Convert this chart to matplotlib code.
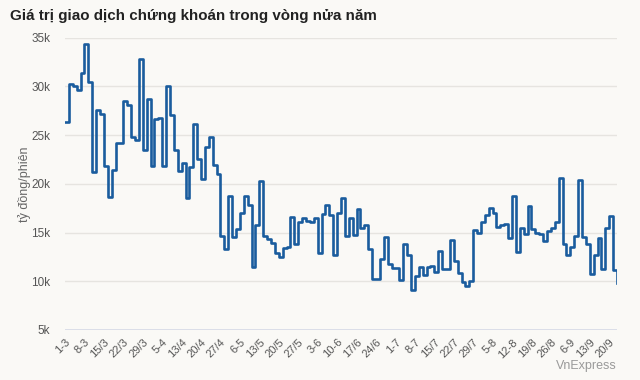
import matplotlib
matplotlib.use("Agg")
import matplotlib.pyplot as plt
from matplotlib.ticker import FuncFormatter

# gia tri giao dich moi phien (ty dong), 1/3 -> 22/9
values = [26300, 30200, 30000, 29600, 31400, 34400, 30500, 21200, 27600, 27200,
          21800, 18700, 21400, 24200, 24200, 28500, 28100, 24800, 24500, 32800,
          23500, 28700, 21800, 26700, 26800, 21800, 30000, 27100, 23500, 21300,
          22100, 18500, 21700, 26100, 22600, 20500, 23800, 24800, 21900, 21000,
          14600, 13300, 18800, 14500, 15400, 17000, 18800, 17800, 11500, 15800,
          20300, 14600, 14300, 13900, 12900, 12500, 13400, 13500, 16600, 13800,
          16100, 16500, 16200, 16100, 16500, 12900, 16900, 17800, 16800, 12700,
          17000, 18500, 14600, 16500, 14700, 17400, 15500, 15800, 13300, 10200,
          10200, 12300, 14500, 11800, 11400, 11400, 10100, 13800, 12700, 9100,
          10500, 11500, 10600, 11500, 11600, 11000, 13100, 11300, 11300, 14200,
          12100, 10900, 9900, 9500, 10000, 15300, 15000, 16100, 16800, 17500,
          17000, 15600, 15800, 15900, 14400, 18800, 13000, 15500, 14900, 17700,
          15400, 15000, 14900, 14100, 15200, 15500, 16100, 20600, 13800, 12700,
          13500, 14600, 20400, 14500, 13800, 10700, 12700, 14400, 11300, 15500,
          16700, 11200, 9800]

# nhan ngay, moi 5 phien
tick_labels = ["1-3", "8-3", "15/3", "22/3", "29/3", "5-4", "13/4", "20/4", "27/4",
               "6-5", "13/5", "20/5", "27/5", "3-6", "10-6", "17/6", "24/6", "1-7",
               "8-7", "15/7", "22/7", "29/7", "5-8", "12-8", "19/8", "26/8", "6-9",
               "13/9", "20/9"]

bg = "#faf9f6"
plt.rcParams["font.family"] = ["Liberation Sans", "DejaVu Sans"]

fig = plt.figure(figsize=(6.4, 3.8), dpi=100, facecolor=bg)
ax = fig.add_axes([65 / 640, 1 - 330 / 380, 552 / 640, (330 - 37.7) / 380])
ax.set_facecolor(bg)

x = list(range(len(values)))
ax.step(x, values, where="post", color="#1a5c9e", lw=1.9, zorder=3)

ax.set_xlim(0, len(values) - 1)
ax.set_ylim(5000, 35000)
ax.set_yticks(range(5000, 35001, 5000))
ax.yaxis.set_major_formatter(FuncFormatter(lambda v, p: "%dk" % (v / 1000)))
ax.grid(axis="y", color="#e6e4e0", lw=1)
ax.axhline(5000, color="#d8dce8", lw=2, zorder=2)

ax.set_xticks(range(0, len(values), 5))
ax.set_xticklabels(tick_labels, rotation=45, ha="right", va="top",
                   rotation_mode="anchor", fontsize=8, color="#555555")
ax.tick_params(axis="y", length=0, labelsize=8.5, labelcolor="#555555", pad=10.5)
ax.tick_params(axis="x", length=0, pad=5)
for s in ax.spines.values():
    s.set_visible(False)

ax.set_ylabel("tỷ đồng/phiên", fontsize=9, color="#666666", labelpad=0)

fig.text(10 / 640, 1 - 16 / 380, "Giá trị giao dịch chứng khoán trong vòng nửa năm",
         fontsize=10.9, fontweight="bold", color="#222222", va="center", ha="left")
fig.text(617 / 640, 1 - 366 / 380, "VnExpress", fontsize=9, color="#9a9a9a",
         ha="right", va="center")

fig.savefig("out.png", dpi=100, facecolor=bg)
